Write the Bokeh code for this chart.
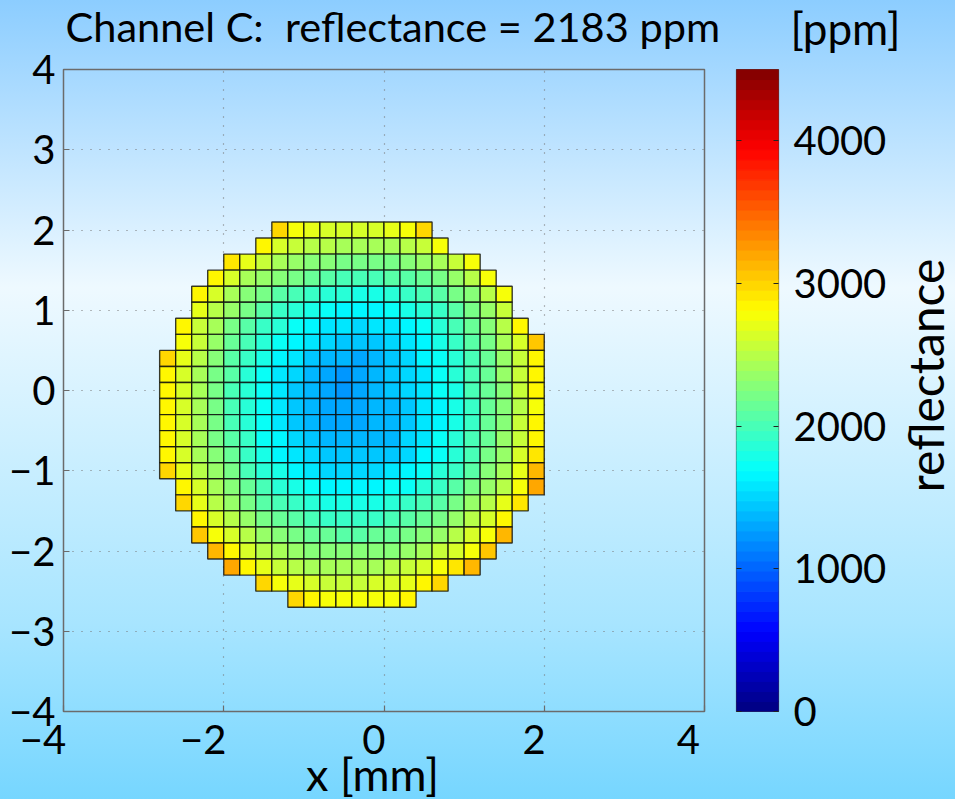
from bokeh.embed import file_html
from bokeh.resources import INLINE
from bokeh.plotting import figure
from bokeh.layouts import row
from bokeh.models import (ColumnDataSource, LinearColorMapper, FixedTicker, Label,
                          Range1d, GlobalInlineStyleSheet, LinearAxis)
import math

TITLE = "Channel C:\u00a0 reflectance = 2183 ppm"
UNIT = "[ppm]"
X_LABEL = "x [mm]\u00a0\u00a0"
CB_LABEL = "reflectance"
X_TICKS = [-4, -2, 0, 2, 4]
X_TICK_TEXT = ["\u22124\u00a0\u00a0\u00a0\u00a0", "\u22122\u00a0\u00a0\u00a0\u00a0", "0\u00a0\u00a0", "2\u00a0\u00a0", "4\u00a0\u00a0"]
Y_TICKS = [-4, -3, -2, -1, 0, 1, 2, 3, 4]
CB_TICKS = [0, 1000, 2000, 3000, 4000]
V_MAX = 4500
CELL = 0.2

# top edge of each row, left edge of its first cell, and the reflectance of its cells
row_tops = [2.1, 1.9, 1.7, 1.5, 1.3, 1.1, 0.9, 0.7, 0.5, 0.3, 0.1, -0.1, -0.3, -0.5, -0.7, -0.9,
            -1.1, -1.3, -1.5, -1.7, -1.9, -2.1, -2.3, -2.5]
row_lefts = [-1.4, -1.6, -2.0, -2.2, -2.4, -2.4, -2.6, -2.6, -2.8, -2.8, -2.8, -2.8, -2.8, -2.8, -2.8, -2.8,
             -2.6, -2.6, -2.4, -2.4, -2.2, -2.0, -1.6, -1.2]
r00 = [3000, 2750, 2700, 2650, 2650, 2650, 2650, 2720, 2750, 3000]
r01 = [2850, 2650, 2550, 2500, 2470, 2450, 2420, 2420, 2450, 2500, 2580, 2800]
r02 = [2950, 2700, 2550, 2420, 2350, 2300, 2260, 2220, 2200, 2200, 2220, 2260, 2330, 2420, 2580, 2800]
r03 = [2850, 2620, 2450, 2350, 2260, 2180, 2120, 2060, 2020, 2010, 2010, 2040, 2090, 2160, 2240, 2340, 2480, 2800]
r04 = [2850, 2620, 2450, 2300, 2200, 2100, 2010, 1940, 1880, 1830, 1810, 1820, 1860, 1920, 2000, 2090, 2190, 2310, 2470, 2780]
r05 = [2730, 2500, 2330, 2190, 2070, 1960, 1860, 1780, 1720, 1680, 1660, 1670, 1700, 1760, 1850, 1950, 2060, 2200, 2380, 2600]
r06 = [2880, 2600, 2400, 2230, 2080, 1950, 1830, 1730, 1660, 1600, 1560, 1540, 1550, 1600, 1650, 1740, 1850, 1970, 2110, 2280, 2480, 2830]
r07 = [2800, 2540, 2340, 2160, 2000, 1860, 1740, 1640, 1550, 1480, 1430, 1420, 1430, 1480, 1560, 1650, 1770, 1900, 2040, 2210, 2400, 2660, 3050]
r08 = [3000, 2720, 2480, 2280, 2100, 1940, 1790, 1660, 1550, 1460, 1390, 1340, 1330, 1370, 1440, 1520, 1620, 1730, 1860, 2000, 2170, 2360, 2600, 2870]
r09 = [2850, 2650, 2440, 2240, 2050, 1880, 1730, 1600, 1480, 1380, 1290, 1240, 1280, 1340, 1410, 1490, 1590, 1700, 1830, 1980, 2140, 2330, 2560, 2840]
r10 = [2840, 2620, 2410, 2210, 2030, 1860, 1710, 1580, 1460, 1360, 1270, 1240, 1300, 1370, 1420, 1490, 1580, 1690, 1820, 1970, 2130, 2320, 2540, 2820]
r11 = [2830, 2610, 2400, 2200, 2010, 1850, 1700, 1570, 1450, 1350, 1270, 1280, 1330, 1370, 1400, 1470, 1570, 1680, 1810, 1960, 2120, 2300, 2530, 2800]
r12 = [2880, 2620, 2410, 2210, 2030, 1870, 1720, 1590, 1470, 1370, 1310, 1310, 1330, 1340, 1390, 1460, 1570, 1680, 1810, 1960, 2130, 2320, 2540, 2820]
r13 = [2840, 2630, 2430, 2240, 2060, 1900, 1750, 1620, 1510, 1420, 1360, 1340, 1340, 1350, 1400, 1480, 1580, 1700, 1830, 1980, 2150, 2340, 2570, 2850]
r14 = [2850, 2650, 2460, 2280, 2110, 1950, 1810, 1680, 1570, 1490, 1440, 1410, 1410, 1420, 1470, 1540, 1640, 1750, 1880, 2030, 2190, 2380, 2610, 2900]
r15 = [3000, 2720, 2530, 2350, 2180, 2020, 1880, 1760, 1660, 1590, 1540, 1510, 1510, 1530, 1570, 1640, 1730, 1840, 1960, 2100, 2260, 2450, 2700, 3150]
r16 = [2830, 2610, 2430, 2260, 2110, 1980, 1870, 1770, 1700, 1650, 1630, 1630, 1650, 1690, 1750, 1840, 1940, 2060, 2190, 2340, 2530, 2800, 3200]
r17 = [2970, 2730, 2530, 2370, 2220, 2100, 2000, 1910, 1840, 1800, 1770, 1770, 1790, 1830, 1900, 1980, 2080, 2200, 2330, 2480, 2680, 2950]
r18 = [2860, 2650, 2490, 2350, 2230, 2130, 2050, 1990, 1950, 1930, 1930, 1950, 1990, 2050, 2130, 2230, 2340, 2480, 2650, 2870]
r19 = [3050, 2810, 2630, 2490, 2370, 2280, 2210, 2150, 2110, 2090, 2090, 2110, 2150, 2210, 2290, 2380, 2490, 2630, 2810, 3100]
r20 = [3150, 2830, 2650, 2530, 2430, 2360, 2310, 2270, 2260, 2260, 2280, 2320, 2380, 2450, 2540, 2650, 2810, 3050]
r21 = [3200, 2880, 2710, 2590, 2510, 2450, 2420, 2410, 2420, 2440, 2490, 2550, 2640, 2750, 2900, 3150]
r22 = [2980, 2800, 2680, 2620, 2580, 2570, 2580, 2610, 2660, 2730, 2830, 3000]
r23 = [3000, 2850, 2800, 2760, 2750, 2770, 2800, 2880]
rows = [r00, r01, r02, r03, r04, r05, r06, r07, r08, r09, r10, r11,
        r12, r13, r14, r15, r16, r17, r18, r19, r20, r21, r22, r23]


def jet(t):
    def ch(c):
        return max(0.0, min(1.0, 1.5 - abs(4 * t - c)))
    return "#%02x%02x%02x" % tuple(round(255 * ch(c)) for c in (3, 2, 1))


palette = [jet((i + 0.5) / 64) for i in range(64)]
mapper = LinearColorMapper(palette=palette, low=0, high=V_MAX)

left, right, top, bottom, vals = [], [], [], [], []
for y_top, x_left, cells in zip(row_tops, row_lefts, rows):
    for k, v in enumerate(cells):
        left.append(x_left + k * CELL)
        right.append(x_left + (k + 1) * CELL)
        top.append(y_top)
        bottom.append(y_top - CELL)
        vals.append(v)
src = ColumnDataSource(dict(left=left, right=right, top=top, bottom=bottom, v=vals))

FONT = "Lato"
FS = "40px"
H = 799
INK = "#000000"
FRAME = "#6b6b6b"

css = GlobalInlineStyleSheet(css="""
html, body { margin: 0; padding: 0; overflow: hidden; height: 100%;
  background: linear-gradient(180deg, #8ccdff 0%, #eef9ff 36%, #a8e5ff 78%, #76d6ff 100%) no-repeat; }
""")

p = figure(width=720, height=H, x_range=Range1d(-4, 4), y_range=Range1d(-4, 4),
           output_backend="svg", toolbar_location=None, frame_width=641, frame_height=642,
           min_border_left=63, min_border_right=16, min_border_top=69, min_border_bottom=88,
           background_fill_color=None, border_fill_color=None,
           outline_line_color=FRAME, outline_line_width=1.5)
p.stylesheets = [css]
p.quad(left="left", right="right", top="top", bottom="bottom", source=src,
       fill_color={"field": "v", "transform": mapper}, line_color="#0a0a0a", line_alpha=0.8, line_width=1.4)

p.xaxis.ticker = FixedTicker(ticks=X_TICKS)
p.yaxis.ticker = FixedTicker(ticks=Y_TICKS)
p.yaxis.major_label_overrides = {t: str(t).replace("-", "\u2212") for t in Y_TICKS}
p.xaxis.major_label_overrides = dict(zip(X_TICKS, X_TICK_TEXT))
p.axis.axis_line_color = None
p.axis.major_tick_line_color = FRAME
p.axis.major_tick_line_width = 1.2
p.axis.major_tick_in = 6
p.axis.major_tick_out = 0
p.axis.minor_tick_line_color = None
p.axis.major_label_text_font = FONT
p.axis.major_label_text_font_size = FS
p.axis.major_label_text_color = INK
p.yaxis.major_label_standoff = 8
p.xaxis.major_label_standoff = 3
p.xaxis.axis_label = X_LABEL
p.xaxis.axis_label_text_font = FONT
p.xaxis.axis_label_text_font_size = "45px"
p.xaxis.axis_label_text_font_style = "normal"
p.xaxis.axis_label_text_color = INK
p.xaxis.axis_label_standoff = -19
p.grid.grid_line_color = "#777777"
p.grid.grid_line_dash = "1 8"
p.grid.grid_line_width = 1.2

p.add_layout(Label(x=2, y=44, x_units="screen", y_units="screen", text=TITLE,
                   text_font=FONT, text_font_size="41.5px", text_color=INK,
                   text_baseline="alphabetic"), "above")

cb = figure(width=235, height=H, x_range=Range1d(0, 1), y_range=Range1d(0, V_MAX),
            output_backend="svg", toolbar_location=None, frame_width=42, frame_height=642,
            min_border_left=16, min_border_right=177, min_border_top=69, min_border_bottom=88,
            background_fill_color=None, border_fill_color=None,
            outline_line_color="#444444", outline_line_width=1.2, y_axis_location="right")
levels = [i * V_MAX / 64 for i in range(65)]
cb.quad(left=0, right=1, bottom=levels[:-1], top=levels[1:], fill_color=palette, line_color=palette)
cb.xaxis.visible = False
cb.grid.visible = False
cb.yaxis.ticker = FixedTicker(ticks=CB_TICKS)
cb.yaxis.axis_line_color = None
cb.yaxis.major_tick_in = 5
cb.yaxis.major_tick_out = 0
cb.yaxis.major_tick_line_color = "#222222"
cb.yaxis.minor_tick_line_color = None
cb.yaxis.major_label_text_font = FONT
cb.yaxis.major_label_text_font_size = FS
cb.yaxis.major_label_text_color = INK
cb.yaxis.major_label_standoff = 15
left_ticks = LinearAxis(ticker=FixedTicker(ticks=CB_TICKS), axis_line_color=None, major_tick_in=5,
                        major_tick_out=0, major_tick_line_color="#222222", minor_tick_line_color=None,
                        major_label_overrides={t: "" for t in CB_TICKS}, major_label_standoff=0)
cb.add_layout(left_ticks, "left")
cb.add_layout(Label(x=54, y=42, x_units="screen", y_units="screen", text=UNIT,
                    text_font=FONT, text_font_size="44px", text_color=INK,
                    text_baseline="alphabetic"), "above")
cb.add_layout(Label(x=36, y=336, x_units="screen", y_units="screen", text=CB_LABEL, angle=math.pi / 2,
                    text_font=FONT, text_font_size="48px", text_color=INK,
                    text_align="center", text_baseline="alphabetic"), "right")

layout = row(p, cb, spacing=0)
open("out.html", "w").write(file_html(layout, INLINE))
